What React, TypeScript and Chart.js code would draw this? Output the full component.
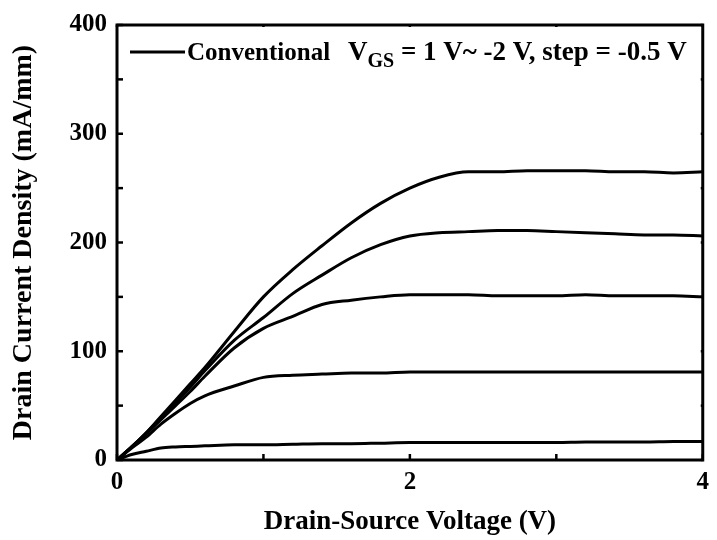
import React, { useEffect, useRef } from "react";
import { Chart, registerables } from "chart.js";

Chart.register(...registerables);

const vds = [0, 0.1, 0.2, 0.3, 0.4, 0.5, 0.6, 0.8, 1.0, 1.2, 1.4, 1.6, 1.8, 2.0, 2.2, 2.4, 2.6, 2.8, 3.0, 3.2, 3.4, 3.6, 3.8, 4.0];
const idVgs1 = [0, 12, 25, 40, 55, 70, 85, 118, 150, 175, 197, 218, 236, 250, 260, 265, 265, 266, 266, 266, 265, 265, 264, 265];
const idVgs05 = [0, 12, 25, 39, 53, 67, 82, 110, 131, 153, 170, 186, 198, 206, 209, 210, 211, 211, 210, 209, 208, 207, 207, 206];
const idVgs0 = [0, 12, 24, 37, 50, 63, 77, 103, 121, 132, 143, 147, 150, 152, 152, 152, 151, 151, 151, 152, 151, 151, 151, 150];
const idVgsM05 = [0, 11, 21, 33, 43, 52, 59, 68, 76, 78, 79, 80, 80, 81, 81, 81, 81, 81, 81, 81, 81, 81, 81, 81];
const idVgsM1 = [0, 5, 8, 11, 12, 12.5, 13, 14, 14, 14.5, 15, 15, 15.5, 16, 16, 16, 16, 16, 16, 16.5, 16.5, 16.5, 17, 17];

const seriesList = [idVgs1, idVgs05, idVgs0, idVgsM05, idVgsM1];
const xTickLabels: Record<number, string> = { 0: "0", 2: "2", 4: "4" };
const yTickLabels: Record<number, string> = { 0: "0", 100: "100", 200: "200", 300: "300", 400: "400" };

const legendLabel = "Conventional";
const legendNote = ["V", "GS", " = 1 V~ -2 V, step = -0.5 V"];

const FONT = "'Liberation Serif', 'Times New Roman', serif";

const framePlugin = {
  id: "frame",
  afterDraw(chart: any) {
    const ctx = chart.ctx;
    const { left, right, top, bottom } = chart.chartArea;
    const xs = chart.scales.x;
    const ys = chart.scales.y;
    ctx.save();
    ctx.strokeStyle = "#000";
    ctx.lineWidth = 3;
    ctx.strokeRect(left, top, right - left, bottom - top);
    ctx.lineWidth = 2.5;
    ys.ticks.forEach((t: any) => {
      const py = ys.getPixelForValue(t.value);
      ctx.beginPath();
      ctx.moveTo(left, py);
      ctx.lineTo(left + 6, py);
      ctx.stroke();
      ctx.beginPath();
      ctx.moveTo(right, py);
      ctx.lineTo(right - 2, py);
      ctx.stroke();
    });
    xs.ticks.forEach((t: any) => {
      const px = xs.getPixelForValue(t.value);
      ctx.beginPath();
      ctx.moveTo(px, bottom);
      ctx.lineTo(px, bottom - 6);
      ctx.stroke();
      ctx.beginPath();
      ctx.moveTo(px, top);
      ctx.lineTo(px, top + 2);
      ctx.stroke();
    });
    // legend
    const ly = top + 27;
    ctx.lineWidth = 3;
    ctx.beginPath();
    ctx.moveTo(left + 13, ly);
    ctx.lineTo(left + 68, ly);
    ctx.stroke();
    ctx.fillStyle = "#000";
    ctx.textBaseline = "alphabetic";
    ctx.font = `bold 25px ${FONT}`;
    ctx.fillText(legendLabel, left + 70, ly + 8);
    let x = left + 231;
    ctx.font = `bold 27px ${FONT}`;
    ctx.fillText(legendNote[0], x, ly + 8);
    x += ctx.measureText(legendNote[0]).width;
    ctx.font = `bold 20px ${FONT}`;
    ctx.fillText(legendNote[1], x, ly + 15);
    x += ctx.measureText(legendNote[1]).width;
    ctx.font = `bold 27px ${FONT}`;
    ctx.fillText(legendNote[2], x, ly + 8);
    ctx.restore();
  },
};

export default function App() {
  const ref = useRef<HTMLCanvasElement | null>(null);
  useEffect(() => {
    document.body.style.margin = "0";
    const canvas = ref.current!;
    const chart = new Chart(canvas, {
      type: "line",
      data: {
        datasets: seriesList.map((s, i) => ({
          label: `s${i}`,
          data: vds.map((v, j) => ({ x: v, y: s[j] })),
          borderColor: "#000",
          borderWidth: 3,
          pointRadius: 0,
          fill: false,
          cubicInterpolationMode: "monotone" as const,
        })),
      },
      options: {
        animation: false,
        responsive: false,
        maintainAspectRatio: false,
        layout: { padding: { top: 25, right: 7, left: 0, bottom: 0 } },
        plugins: { legend: { display: false }, tooltip: { enabled: false } },
        scales: {
          x: {
            type: "linear",
            min: 0,
            max: 4,
            grid: { display: false, drawTicks: false },
            border: { display: false },
            ticks: {
              stepSize: 1,
              padding: 8,
              color: "#000",
              font: { family: FONT, size: 25, weight: "bold" },
              maxRotation: 0,
              autoSkip: false,
              callback: (v: any) => xTickLabels[v] ?? "",
            },
            title: {
              display: true,
              text: "Drain-Source Voltage (V)",
              color: "#000",
              font: { family: FONT, size: 27, weight: "bold" },
              padding: { top: 0, bottom: 2 },
            },
            afterFit: (s: any) => {
              s.height = 80;
            },
          },
          y: {
            type: "linear",
            min: 0,
            max: 400,
            grid: { display: false, drawTicks: false },
            border: { display: false },
            ticks: {
              stepSize: 50,
              padding: 10,
              color: "#000",
              font: { family: FONT, size: 25, weight: "bold" },
              autoSkip: false,
              callback: (v: any) => yTickLabels[v] ?? "",
            },
            title: {
              display: true,
              text: "Drain Current Density (mA/mm)",
              color: "#000",
              font: { family: FONT, size: 28, weight: "bold" },
              padding: { top: 7, bottom: 0 },
            },
            afterFit: (s: any) => {
              s.width = 117;
            },
          },
        },
      },
      plugins: [framePlugin],
    });
    return () => chart.destroy();
  }, []);
  return <canvas ref={ref} width={717} height={540} style={{ display: "block" }} />;
}
